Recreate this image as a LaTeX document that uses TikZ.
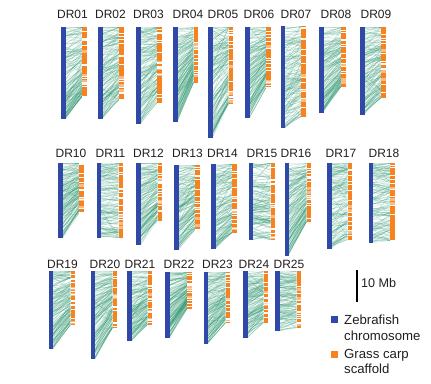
\documentclass[tikz,border=0pt]{standalone}
\usepackage{fontspec}
\setmainfont{Liberation Sans}
\definecolor{zblue}{RGB}{48,72,168}
\definecolor{gorange}{RGB}{247,130,30}
\definecolor{lgreen}{RGB}{40,150,108}
\definecolor{labtext}{RGB}{35,31,32}
\tikzset{
  link/.style={draw=lgreen, line width=0.35pt, opacity=0.3},
  lab/.style={font=\fontsize{12}{13}\selectfont, text=labtext, inner sep=0pt, anchor=base},
  leg/.style={font=\fontsize{13.2}{15}\selectfont, text=labtext, inner sep=0pt, anchor=base west},
  stripe/.style={draw=white, line width=0.6pt},
}
\newcommand\drpanel[8]{%
  \foreach \i in {1,...,170}{%
    \pgfmathsetmacro\lnA{rnd}%
    \pgfmathsetmacro\lnB{\lnA+0.18*(rnd-0.5)+(rnd<0.12)*(rnd-0.5)*0.8}%
    \pgfmathsetmacro\lnB{min(max(\lnB,0.005),0.995)}%
    \draw[link] ({#2+4.5},{#4+\lnA*(#5-#4)}) -- ({#3},{#4+\lnB*(#6-#4)});
  }
  \fill[zblue] (#2,#4) rectangle ({#2+4.5},#5);
  \fill[gorange] (#3,#4) rectangle ({#3+4.5},#6);
  \foreach \j in {1,...,14}{%
    \pgfmathsetmacro\sy{#4+rnd*(#6-#4)}%
    \draw[stripe] (#3,\sy) -- ({#3+4.5},\sy);
  }
  \foreach \j in {1,...,3}{%
    \pgfmathsetmacro\sy{#4+(0.3+0.7*rnd)*(#6-#4-4)}%
    \fill[white, opacity=0.45] (#3,\sy) rectangle ({#3+4.5},{\sy+3});
  }
  \node[lab] (#1) at (#7,#8) {#1};
}
\begin{document}
\begin{tikzpicture}[x=1pt,y=-1pt]
\useasboundingbox (0,0) rectangle (431,383);
\fill[white] (0,0) rectangle (431,383);
\pgfmathsetseed{4711}
% row 1
\drpanel{DR01}{61}{82}{27}{119}{97}{72.5}{18}
\drpanel{DR02}{98}{119}{27}{119}{100}{110.5}{18}
\drpanel{DR03}{136}{157}{27}{124}{103}{148.5}{18}
\drpanel{DR04}{173}{193.5}{27}{122}{83}{188}{18}
\drpanel{DR05}{208}{228.5}{27}{138}{104}{223}{18}
\drpanel{DR06}{245}{266}{27}{118}{88}{259}{18}
\drpanel{DR07}{280.5}{301}{26}{128}{117}{296}{18}
\drpanel{DR08}{319}{341}{27}{113}{87}{336}{18}
\drpanel{DR09}{360}{381}{27}{115}{98}{376}{18}
% row 2
\drpanel{DR10}{58}{79}{163}{238}{214}{71}{157}
\drpanel{DR11}{96.5}{118.5}{163}{238}{238}{110.5}{157}
\drpanel{DR12}{136}{157.5}{163}{245}{221}{148.5}{157}
\drpanel{DR13}{174}{195}{165}{250}{230}{187.5}{157}
\drpanel{DR14}{211}{232}{164}{249}{233}{222.5}{157}
\drpanel{DR15}{248.5}{270.5}{163}{240}{240}{262}{157}
\drpanel{DR16}{284.5}{306.5}{163}{256}{222}{296}{157}
\drpanel{DR17}{327}{347.5}{163}{249}{240}{341}{157}
\drpanel{DR18}{368.5}{390}{163}{243}{241}{384}{157}
% row 3
\drpanel{DR19}{48.5}{70.5}{271}{349}{325}{62.5}{268}
\drpanel{DR20}{90.5}{112.5}{271}{359}{328}{105}{268}
\drpanel{DR21}{127}{147.5}{271}{341}{325}{140}{268}
\drpanel{DR22}{165}{187}{272}{338}{309}{179}{268}
\drpanel{DR23}{203.5}{225.5}{272}{344}{323}{217.5}{268}
\drpanel{DR24}{243}{263.5}{271}{338}{323}{254}{268}
\drpanel{DR25}{275}{296.5}{271}{331}{328}{289}{268}
% scale bar
\coordinate (sbtop) at (357,270);
\coordinate (sbbot) at (357,302);
\draw[line width=2.4pt, black] (sbtop) -- (sbbot);
\node[leg, font=\fontsize{12.6}{14}\selectfont] (sblab) at (361,287) {10 Mb};
% legend
\fill[zblue] (331,316) rectangle (338,323);
\node[leg] (lz1) at (344,324) {Zebrafish};
\node[leg] (lz2) at (344,340) {chromosome};
\fill[gorange] (331,351) rectangle (338,358);
\node[leg] (lg1) at (344,358) {Grass carp};
\node[leg] (lg2) at (344,373) {scaffold};
\end{tikzpicture}
\end{document}
